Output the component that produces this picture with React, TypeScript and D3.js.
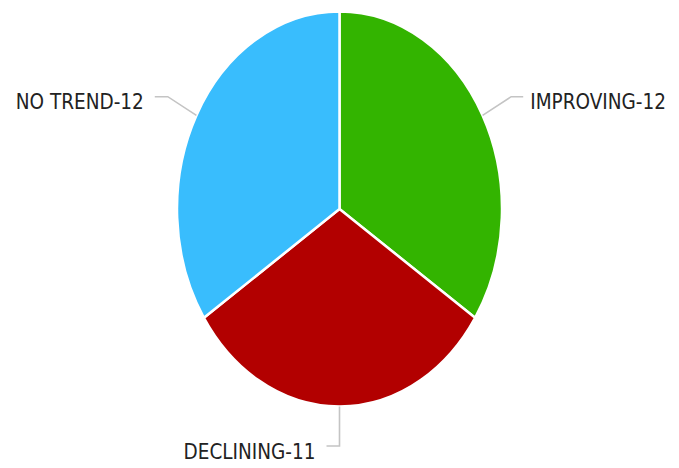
import React from "react";
import * as d3 from "d3";

const categories = ["IMPROVING", "DECLINING", "NO TREND"];
const values = [12, 11, 12];
const colors = ["#33b400", "#b20000", "#39bdfd"];

const W = 679;
const H = 468;
const cx = 339.5;
const cy = 209;
const rx = 162.5;
const ry = 197.5;

export default function App() {
  const data = categories.map((c, i) => ({ name: c, value: values[i], color: colors[i] }));
  const pie = d3.pie<any>().value((d: any) => d.value).sort(null);
  const arcs = pie(data);
  const arcGen = d3.arc<any>().innerRadius(0).outerRadius(ry);

  return (
    <svg
      width={W}
      height={H}
      style={{ position: "absolute", left: 0, top: 0, background: "#fff" }}
    >
      <g transform={`translate(${cx},${cy}) scale(${rx / ry},1)`}>
        {arcs.map((a, i) => (
          <path
            key={i}
            d={arcGen(a) as string}
            fill={a.data.color}
            stroke="#fff"
            strokeWidth={2.5}
            vectorEffect="non-scaling-stroke"
          />
        ))}
      </g>
      {arcs.map((a, i) => {
        const mid = (a.startAngle + a.endAngle) / 2;
        const ex = cx + rx * Math.sin(mid);
        const ey = cy - ry * Math.cos(mid);
        const k = 1.2;
        const bx = cx + rx * k * Math.sin(mid);
        const by = cy - ry * k * Math.cos(mid);
        const right = bx > cx + 1;
        const hx = right ? bx + 12 : bx - 13;
        const tx = right ? hx + 7 : hx - 11;
        return (
          <g key={"l" + i}>
            <polyline
              points={`${ex},${ey} ${bx},${by} ${hx},${by}`}
              fill="none"
              stroke="#c4c4c4"
              strokeWidth={1.6}
            />
            <text
              x={tx}
              y={by + 12.5}
              textAnchor={right ? "start" : "end"}
              fontFamily="'DejaVu Sans Condensed', 'DejaVu Sans', sans-serif"
              fontStretch="condensed"
              fontSize={20.5}
              fill="#222"
            >
              {`${a.data.name}-${a.data.value}`}
            </text>
          </g>
        );
      })}
    </svg>
  );
}
